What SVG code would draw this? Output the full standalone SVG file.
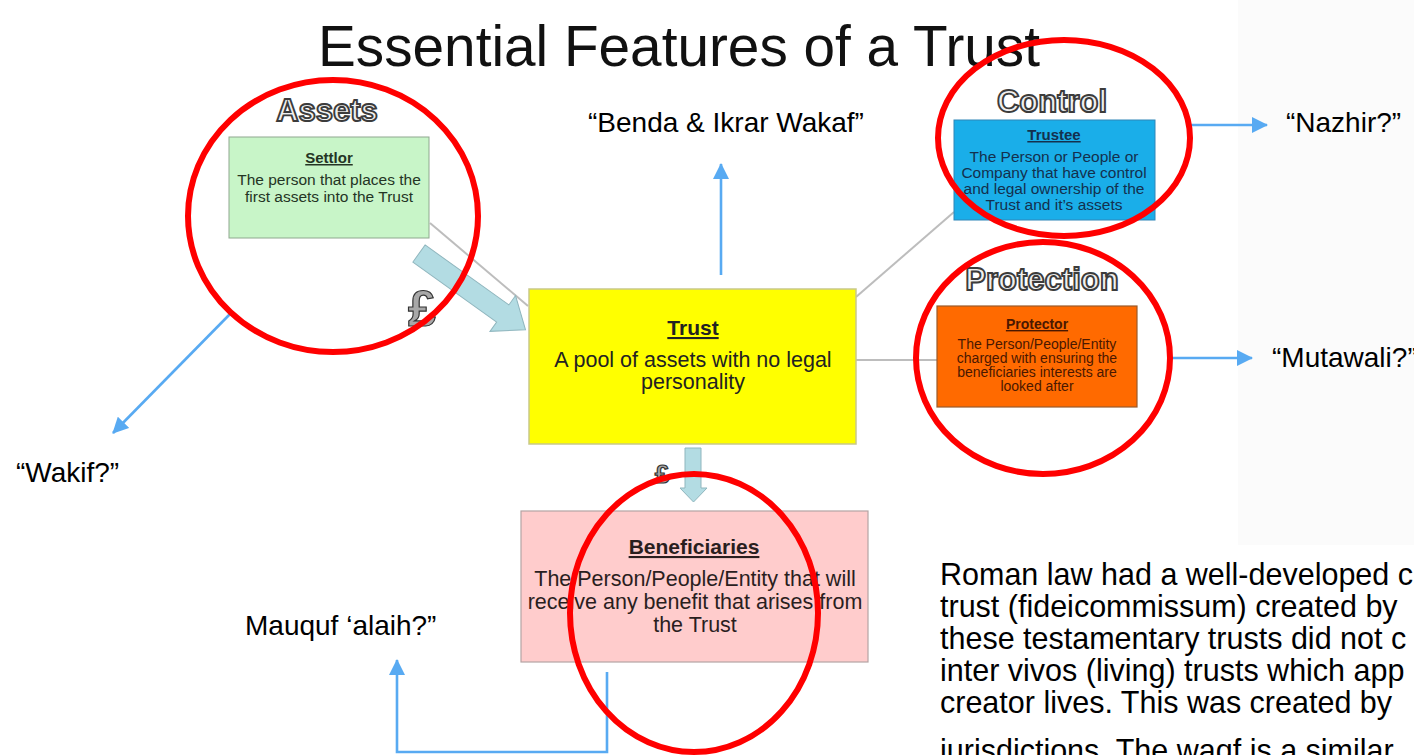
<svg xmlns="http://www.w3.org/2000/svg" width="1414" height="755" viewBox="0 0 1414 755">
<defs>
<style>
.t{font-family:"Liberation Sans",Arial,sans-serif;}
.lbl{font-family:"Liberation Sans",Arial,sans-serif;font-size:28px;fill:#000;}
.hd{font-family:"Liberation Sans",Arial,sans-serif;font-weight:bold;font-size:31px;fill:#f0f0f0;stroke:#3c3c3c;stroke-width:1.9;text-anchor:middle;}
.ttl{font-weight:bold;text-decoration:underline;}
.ring{fill:none;stroke:#ff0000;stroke-width:6;}
.blue{fill:none;stroke:#58aaf2;stroke-width:2.6;}
.gray{fill:none;stroke:#bdbdbd;stroke-width:2;}
.block{fill:#b3dce3;stroke:#8fb6be;stroke-width:1;}
.pound{font-family:"Liberation Sans",Arial,sans-serif;font-weight:bold;fill:#a8a8a8;stroke:#333;stroke-width:1.2;text-anchor:middle;}
</style>
<marker id="ah" viewBox="0 0 16 16" refX="15" refY="8" markerWidth="16" markerHeight="16" markerUnits="userSpaceOnUse" orient="auto">
<path d="M0,0 L16,8 L0,16 Z" fill="#58aaf2"/>
</marker>
</defs>
<rect x="0" y="0" width="1414" height="755" fill="#ffffff"/>
<rect x="1238" y="0" width="176" height="545" fill="#fbfbfb"/>

<g id="title">
<text class="t" x="318" y="66" font-size="58" fill="#111" textLength="722" lengthAdjust="spacingAndGlyphs">Essential Features of a Trust</text>
</g>

<g id="connectors">
<line class="gray" x1="430" y1="223" x2="528" y2="306"/>
<line class="gray" x1="856" y1="297" x2="954" y2="212"/>
<line class="gray" x1="856" y1="360" x2="937" y2="360"/>
<path class="block" transform="translate(419,253.5) rotate(35.6)" d="M0,-10.5 L103,-10.5 L103,-22 L131,0 L103,22 L103,10.5 L0,10.5 Z"/>
<path class="block" d="M685,448 L701,448 L701,488 L707,488 L693.5,502 L680,488 L685,488 Z"/>
<line class="blue" x1="232" y1="312" x2="113" y2="433" marker-end="url(#ah)" stroke-width="2.2"/>
<line class="blue" x1="721" y1="275" x2="721" y2="164" marker-end="url(#ah)"/>
<line class="blue" x1="1190" y1="125" x2="1267" y2="125" marker-end="url(#ah)"/>
<line class="blue" x1="1168" y1="358" x2="1252" y2="358" marker-end="url(#ah)"/>
<polyline class="blue" points="607,672 607,752 397,752 397,660" marker-end="url(#ah)"/>
</g>

<g id="pounds">
<text class="pound" x="422" y="326" font-size="50">£</text>
<text class="pound" x="662" y="483" font-size="26" stroke-width="0.8">£</text>
</g>

<g id="settlor">
<text class="hd" x="327" y="121">Assets</text>
<rect x="229" y="137" width="200" height="101" fill="#c8f5c8" stroke="#8fa88f" stroke-width="1"/>
<text class="t" x="329" y="163" font-size="15" fill="#243424" text-anchor="middle"><tspan class="ttl">Settlor</tspan></text>
<text class="t" font-size="15.5" fill="#243424" text-anchor="middle"><tspan x="329" y="185">The person that places the</tspan><tspan x="329" y="202">first assets into the Trust</tspan></text>
</g>

<g id="trust">
<rect x="529" y="289" width="327" height="155" fill="#ffff00" stroke="#c9c98a" stroke-width="1.5"/>
<text class="t" x="693" y="335" font-size="21" fill="#222" text-anchor="middle"><tspan class="ttl">Trust</tspan></text>
<text class="t" font-size="21.5" fill="#222" text-anchor="middle"><tspan x="693" y="367">A pool of assets with no legal</tspan><tspan x="693" y="389">personality</tspan></text>
</g>

<g id="trustee">
<text class="hd" x="1052" y="112">Control</text>
<rect x="954" y="120" width="201" height="100" fill="#1aaee9" stroke="#2f86b8" stroke-width="1"/>
<text class="t" x="1054" y="140" font-size="15" fill="#14304e" text-anchor="middle"><tspan class="ttl">Trustee</tspan></text>
<text class="t" font-size="15.5" fill="#14304e" text-anchor="middle"><tspan x="1054" y="162">The Person or People or</tspan><tspan x="1054" y="178">Company that  have control</tspan><tspan x="1054" y="194">and legal ownership of the</tspan><tspan x="1054" y="210">Trust and it’s assets</tspan></text>
</g>

<g id="protector">
<text class="hd" x="1042" y="290">Protection</text>
<rect x="937" y="306" width="200" height="101" fill="#ff6a00" stroke="#9a5a2a" stroke-width="1.2"/>
<text class="t" x="1037" y="329" font-size="14" fill="#4a1800" text-anchor="middle"><tspan class="ttl">Protector</tspan></text>
<text class="t" font-size="14" fill="#4a1800" text-anchor="middle"><tspan x="1037" y="349">The Person/People/Entity</tspan><tspan x="1037" y="363">charged with ensuring the</tspan><tspan x="1037" y="377">beneficiaries interests are</tspan><tspan x="1037" y="391">looked after</tspan></text>
</g>

<g id="beneficiaries">
<rect x="521" y="511" width="347" height="151" fill="#ffcccc" stroke="#b5a3a3" stroke-width="1.2"/>
<text class="t" x="694" y="554" font-size="21" fill="#2a1e1e" text-anchor="middle"><tspan class="ttl">Beneficiaries</tspan></text>
<text class="t" font-size="21.5" fill="#2a1e1e" text-anchor="middle"><tspan x="695" y="586">The Person/People/Entity that will</tspan><tspan x="695" y="609">receive any benefit that arises from</tspan><tspan x="695" y="632">the Trust</tspan></text>
</g>

<g id="circles">
<ellipse class="ring" cx="333" cy="216" rx="145" ry="136"/>
<ellipse class="ring" cx="1064" cy="138" rx="126" ry="98"/>
<ellipse class="ring" cx="1043" cy="358" rx="127" ry="116"/>
<ellipse class="ring" cx="694" cy="613" rx="124" ry="139"/>
</g>

<g id="labels">
<text class="lbl" x="588" y="132">“Benda &amp; Ikrar Wakaf”</text>
<text class="lbl" x="1286" y="132">“Nazhir?”</text>
<text class="lbl" x="1272" y="367">“Mutawali?”</text>
<text class="lbl" x="16" y="482">“Wakif?”</text>
<text class="lbl" x="245" y="635">Mauquf ‘alaih?”</text>
</g>

<g id="note">
<text class="t" font-size="30.5" fill="#000"><tspan x="940" y="585">Roman law had a well-developed c</tspan><tspan x="940" y="617">trust (fideicommissum) created by</tspan><tspan x="940" y="649">these testamentary trusts did not c</tspan><tspan x="940" y="681">inter vivos (living) trusts which app</tspan><tspan x="940" y="713">creator lives. This was created by</tspan><tspan x="940" y="761">jurisdictions. The waqf is a similar</tspan></text>
</g>
</svg>
